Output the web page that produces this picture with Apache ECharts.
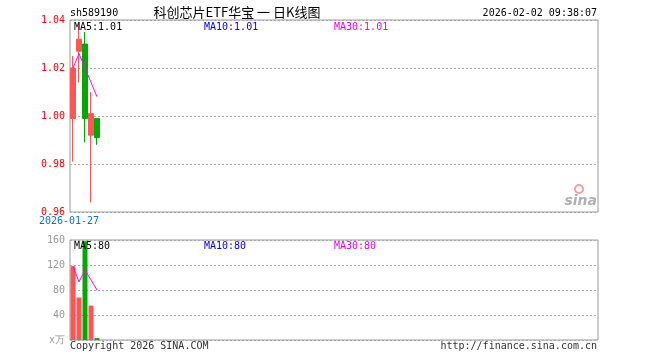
<!DOCTYPE html>
<html><head><meta charset="utf-8">
<script src="https://cdn.jsdelivr.net/npm/echarts@6/dist/echarts.min.js"></script>
<style>html,body{margin:0;padding:0;background:#fff}#c{width:660px;height:360px}</style>
</head><body><div id="c"></div>
<script>
const dates = ['2026-01-27','2026-01-28','2026-01-29','2026-01-30','2026-02-02'];
const opens  = [0.999, 1.027, 1.030, 0.992, 0.999];
const closes = [1.020, 1.032, 0.999, 1.001, 0.991];
const lows   = [0.981, 1.014, 0.989, 0.964, 0.988];
const highs  = [1.025, 1.039, 1.035, 1.010, 0.999];
const ma5    = [1.020, 1.026, 1.020, 1.014, 1.008];
const volumes = [118, 68, 158, 55, 3];
const volMa5  = [118, 93, 112, 96, 80];
const priceTicks = [0.96, 0.98, 1.00, 1.02, 1.04];
const volTicks = [0, 40, 80, 120, 160];

const UP = '#ff5555', DOWN = '#00aa00';
const MONO = 'DejaVu Sans Mono';
const chart = echarts.init(document.getElementById('c'), null, {renderer:'canvas'});
const kData = dates.map((d,i)=>[opens[i], closes[i], lows[i], highs[i]]);
const volData = volumes.map((v,i)=>({value:v, itemStyle:{color: closes[i] >= opens[i] ? UP : DOWN}}));

const txt = (x,y,t,color,align,extra) => Object.assign({type:'text', x, y, style:{text:t, fill:color, font:'10px "'+MONO+'"', align:align||'left', verticalAlign:'middle'}, z:100}, extra||{});

chart.setOption({
  animation:false,
  grid:[
    {left:70, right:62, top:20, height:192, show:true, borderColor:'#999', borderWidth:1},
    {left:70, right:62, top:240, height:100, show:true, borderColor:'#999', borderWidth:1}
  ],
  xAxis:[
    {type:'category', gridIndex:0, data:dates, max:87, boundaryGap:true,
     axisLine:{show:false}, axisTick:{show:false}, splitLine:{show:false},
     axisLabel:{interval:(i)=>i===0, color:'#0077cc', fontFamily:MONO, fontSize:10, margin:4, padding:[0,8,0,0]}},
    {type:'category', gridIndex:1, data:dates, max:87, boundaryGap:true,
     axisLine:{show:false}, axisTick:{show:false}, splitLine:{show:false}, axisLabel:{show:false}}
  ],
  yAxis:[
    {type:'value', gridIndex:0, min:priceTicks[0], max:priceTicks[priceTicks.length-1], interval:0.02,
     axisLine:{show:false}, axisTick:{show:false},
     axisLabel:{color:'#ff0000', fontFamily:MONO, fontSize:10, margin:5, formatter:(v)=>v.toFixed(2)},
     splitLine:{show:true, lineStyle:{color:'#aaa', type:[2,2], width:1}}},
    {type:'value', gridIndex:1, min:volTicks[0], max:volTicks[volTicks.length-1], interval:40,
     axisLine:{show:false}, axisTick:{show:false},
     axisLabel:{color:'#999', fontFamily:MONO, fontSize:10, margin:5, formatter:(v)=>v===0?'x万':String(v)},
     splitLine:{show:true, lineStyle:{color:'#aaa', type:[2,2], width:1}}}
  ],
  series:[
    {type:'candlestick', xAxisIndex:0, yAxisIndex:0, data:kData, barWidth:5,
     itemStyle:{color:UP, color0:DOWN, borderColor:UP, borderColor0:DOWN, borderWidth:1}},
    {type:'line', xAxisIndex:0, yAxisIndex:0, data:ma5, symbol:'none', lineStyle:{color:'#ff00ff', width:1}, z:5},
    {type:'bar', xAxisIndex:1, yAxisIndex:1, data:volData, barWidth:5},
    {type:'line', xAxisIndex:1, yAxisIndex:1, data:volMa5, symbol:'none', lineStyle:{color:'#ff00ff', width:1}, z:5}
  ],
  graphic:[
    txt(70, 13, 'sh589190', '#000'),
    {type:'text', x:237, y:12, style:{text:'科创芯片ETF华宝 一 日K线图', fill:'#000', font:'13px "Noto Sans CJK SC"', align:'center', verticalAlign:'middle'}, z:100},
    txt(597, 13, '2026-02-02 09:38:07', '#000', 'right'),
    txt(74, 27, 'MA5:1.01', '#000'),
    txt(204, 27, 'MA10:1.01', '#0000ee'),
    txt(334, 27, 'MA30:1.01', '#ee00ee'),
    txt(74, 246, 'MA5:80', '#000'),
    txt(204, 246, 'MA10:80', '#0000ee'),
    txt(334, 246, 'MA30:80', '#ee00ee'),
    txt(70, 346, 'Copyright 2026 SINA.COM', '#333'),
    txt(597, 346, 'http://finance.sina.com.cn', '#333', 'right'),
    {type:'circle', shape:{cx:579, cy:189, r:4}, style:{fill:'none', stroke:'#f2a0a0', lineWidth:2}, z:90},
    {type:'text', x:597, y:201, style:{text:'sina', fill:'#b0b0b0', font:'italic bold 14px "DejaVu Sans"', align:'right', verticalAlign:'middle'}, z:90}
  ]
});
</script></body></html>
